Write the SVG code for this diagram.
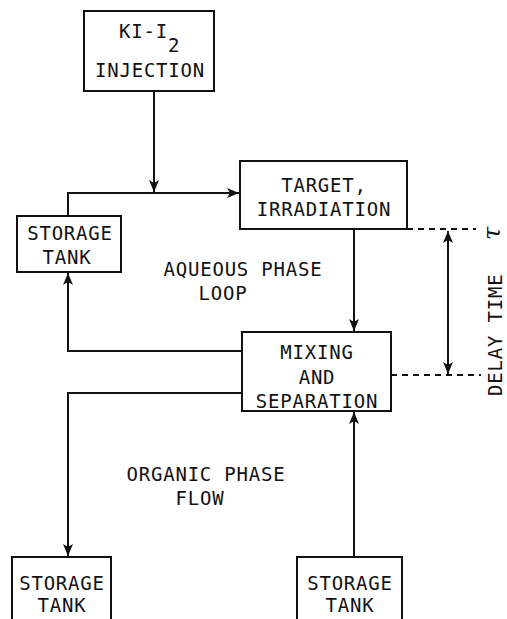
<svg xmlns="http://www.w3.org/2000/svg" width="507" height="619" viewBox="0 0 507 619">
<defs>
<marker id="ah" viewBox="0 0 12 10" refX="12" refY="5" markerWidth="12" markerHeight="10" markerUnits="userSpaceOnUse" orient="auto-start-reverse">
<path d="M0,0 L12,5 L0,10 L3,5 Z" fill="#111"/>
</marker>
</defs>
<style>
.box{fill:#fff;stroke:#111;stroke-width:2}
.ln{fill:none;stroke:#111;stroke-width:2}
.dash{fill:none;stroke:#111;stroke-width:2;stroke-dasharray:6 5}
text{font-family:"DejaVu Sans Mono","Liberation Mono",monospace;font-size:19px;fill:#111;letter-spacing:0.8px}
.c{text-anchor:middle}
</style>
<rect width="507" height="619" fill="#fff"/>
<g id="connectors">
<path class="ln" d="M154,91 V192" marker-end="url(#ah)"/>
<path class="ln" d="M68,216 V193 H239" marker-end="url(#ah)"/>
<path class="ln" d="M354,229 V331" marker-end="url(#ah)"/>
<path class="ln" d="M242,351 H68 V273" marker-end="url(#ah)"/>
<path class="ln" d="M242,393 H68 V556" marker-end="url(#ah)"/>
<path class="ln" d="M354,557 V412" marker-end="url(#ah)"/>
<path class="dash" d="M407,229 H476"/>
<path class="dash" d="M391,375 H481"/>
<path class="ln" d="M448,231 V374" marker-start="url(#ah)" marker-end="url(#ah)"/>
</g>
<g id="ki">
<rect class="box" x="84" y="11" width="130" height="80"/>
<text x="119" y="38">KI-I<tspan dy="14">2</tspan></text>
<text class="c" x="150" y="77">INJECTION</text>
</g>
<g id="target">
<rect class="box" x="240" y="161" width="167" height="68"/>
<text class="c" x="324" y="192">TARGET,</text>
<text class="c" x="324" y="216">IRRADIATION</text>
</g>
<g id="storage1">
<rect class="box" x="17" y="216" width="104" height="56"/>
<text class="c" x="70" y="240">STORAGE</text>
<text class="c" x="67" y="264">TANK</text>
</g>
<g id="mixing">
<rect class="box" x="242" y="332" width="149" height="79"/>
<text class="c" x="317" y="359">MIXING</text>
<text class="c" x="317" y="384">AND</text>
<text class="c" x="317" y="408">SEPARATION</text>
</g>
<g id="storage2">
<rect class="box" x="12" y="557" width="99" height="70"/>
<text class="c" x="62" y="590">STORAGE</text>
<text class="c" x="62" y="612">TANK</text>
</g>
<g id="storage3">
<rect class="box" x="297" y="557" width="105" height="70"/>
<text class="c" x="350" y="590">STORAGE</text>
<text class="c" x="350" y="612">TANK</text>
</g>
<g id="labels">
<text class="c" x="243" y="276">AQUEOUS PHASE</text>
<text class="c" x="223" y="300">LOOP</text>
<text class="c" x="206" y="481">ORGANIC PHASE</text>
<text class="c" x="200" y="505">FLOW</text>
<text transform="translate(502,396) rotate(-90)">DELAY  TIME</text>
<text transform="translate(500,240) rotate(-90)" style="font-family:'DejaVu Serif',serif;font-size:24px;font-style:italic">τ</text>
</g>
</svg>
